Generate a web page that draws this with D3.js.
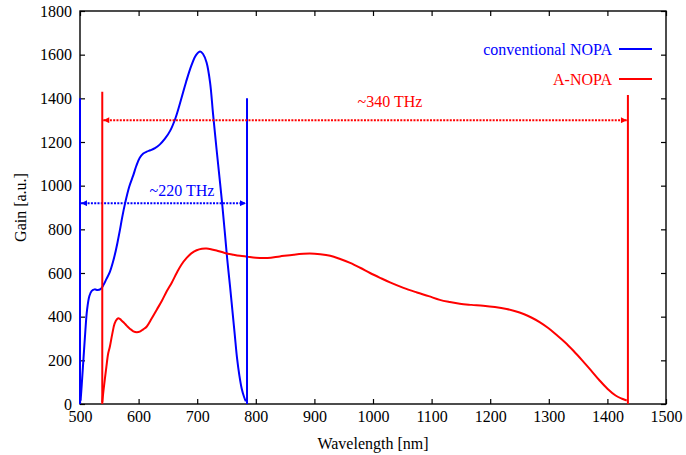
<!DOCTYPE html>
<html>
<head>
<meta charset="utf-8">
<script src="https://cdn.jsdelivr.net/npm/d3@7"></script>
<style>
  html, body { margin: 0; padding: 0; background: #fff; }
  svg { display: block; font-family: "Liberation Serif", "Times New Roman", serif; }
  .tick text { font-size: 16px; fill: #000; }
</style>
</head>
<body>
<div id="chart"></div>
<script>
// Gain vs wavelength: conventional NOPA vs A-NOPA
const xTicks = [500, 600, 700, 800, 900, 1000, 1100, 1200, 1300, 1400, 1500];
const yTicks = [0, 200, 400, 600, 800, 1000, 1200, 1400, 1600, 1800];

// conventional NOPA [nm, gain]
const convNopa = [
  [501,15],[503,90],[506,210],[509,330],[512,430],[516,495],[520,518],[525,525],[530,522],
  [535,526],[540,545],[545,572],[551,605],[556,648],[560,690],[564,740],[568,795],[572,855],
  [577,920],[584,995],[591,1048],[596,1090],[602,1128],[608,1147],[614,1156],[620,1162],
  [628,1172],[636,1188],[645,1215],[654,1252],[663,1310],[672,1390],[681,1475],[690,1550],
  [698,1598],[705,1615],[710,1603],[716,1564],[722,1472],[727,1330],[733,1168],[739,1013],
  [743,906],[747,790],[751,670],[756,540],[760,430],[764,320],[768,210],[772,130],[776,70],
  [780,32],[783,12]
];

// A-NOPA [nm, gain]
const aNopa = [
  [538,8],[540,60],[545,170],[548,230],[551,263],[555,320],[559,368],[563,388],[566,393],
  [570,385],[575,372],[580,358],[585,345],[591,333],[597,329],[603,333],[608,342],[614,355],
  [622,390],[631,432],[640,474],[648,516],[657,558],[665,600],[673,638],[682,669],[690,690],
  [699,704],[708,711],[716,712],[725,708],[733,703],[747,692],[762,684],[773,679],[785,675],
  [800,670],[820,669],[841,676],[865,684],[892,689],[910,686],[927,679],[944,664],[961,646],
  [978,624],[995,600],[1012,578],[1029,557],[1052,532],[1075,511],[1095,494],[1114,477],
  [1131,467],[1148,459],[1168,454],[1188,450],[1208,444],[1228,435],[1243,425],[1257,412],
  [1271,395],[1285,374],[1299,348],[1313,317],[1328,282],[1342,244],[1357,200],[1372,154],
  [1386,110],[1400,70],[1414,39],[1425,24],[1433,16]
];

// bandwidth markers: [left nm, right nm], vertical line tops, arrow level, label
const convBand = [500, 785];
const convBandTops = [1400, 1400];
const convArrowY = 920;
const convLabel = "~220 THz";

const aBand = [538, 1435];
const aBandTops = [1430, 1415];
const aArrowY = 1300;
const aLabel = "~340 THz";

const seriesNames = ["conventional NOPA", "A-NOPA"];
const seriesColors = ["#0000ff", "#ff0000"];

const W = 686, H = 455;
const margin = { top: 11, right: 20, bottom: 51, left: 80 };

const x = d3.scaleLinear().domain([500, 1500]).range([margin.left, W - margin.right]);
const y = d3.scaleLinear().domain([0, 1800]).range([H - margin.bottom, margin.top]);

const svg = d3.select("#chart").append("svg")
  .attr("width", W).attr("height", H);

const defs = svg.append("defs");
seriesColors.forEach((c, i) => {
  defs.append("marker")
    .attr("id", "arr" + i)
    .attr("viewBox", "0 0 10 10")
    .attr("refX", 10).attr("refY", 5)
    .attr("markerWidth", 9).attr("markerHeight", 6)
    .attr("markerUnits", "userSpaceOnUse")
    .attr("orient", "auto-start-reverse")
    .append("path").attr("d", "M0,0L10,5L0,10Z").attr("fill", c);
});

// ticks (inward, mirrored)
const tk = 5;
const fmt = d3.format("d");
const axisStyle = g => g.attr("font-family", null).attr("font-size", null)
  .call(g => g.select(".domain").remove());
svg.append("g")
  .attr("transform", `translate(0,${y(0)})`)
  .call(d3.axisBottom(x).tickValues(xTicks).tickFormat(fmt).tickSizeInner(-tk).tickSizeOuter(0).tickPadding(7))
  .call(axisStyle);
svg.append("g")
  .attr("transform", `translate(0,${y(1800)})`)
  .call(d3.axisTop(x).tickValues(xTicks).tickSizeInner(-tk).tickSizeOuter(0).tickFormat(""))
  .call(axisStyle);
svg.append("g")
  .attr("transform", `translate(${x(500)},0)`)
  .call(d3.axisLeft(y).tickValues(yTicks).tickFormat(fmt).tickSizeInner(-tk).tickSizeOuter(0).tickPadding(8))
  .call(axisStyle);
svg.append("g")
  .attr("transform", `translate(${x(1500)},0)`)
  .call(d3.axisRight(y).tickValues(yTicks).tickSizeInner(-tk).tickSizeOuter(0).tickFormat(""))
  .call(axisStyle);
svg.selectAll(".tick line").attr("stroke", "#000").attr("stroke-width", 1.2);

// frame
svg.append("rect")
  .attr("x", x(500)).attr("y", y(1800))
  .attr("width", x(1500) - x(500)).attr("height", y(0) - y(1800))
  .attr("fill", "none").attr("stroke", "#000").attr("stroke-width", 1.4);

// axis titles
svg.append("text")
  .attr("x", (x(500) + x(1500)) / 2).attr("y", 449)
  .attr("text-anchor", "middle").attr("font-size", 16)
  .text("Wavelength [nm]");
svg.append("text")
  .attr("transform", `translate(26,${(y(0) + y(1800)) / 2}) rotate(-90)`)
  .attr("text-anchor", "middle").attr("font-size", 16)
  .text("Gain [a.u.]");

// curves
const line = d3.line()
  .x(d => x(d[0])).y(d => y(d[1]))
  .curve(d3.curveCatmullRom.alpha(0.5));

[convNopa, aNopa].forEach((data, i) => {
  svg.append("path")
    .datum(data)
    .attr("fill", "none")
    .attr("stroke", seriesColors[i])
    .attr("stroke-width", 2)
    .attr("stroke-linejoin", "round")
    .attr("d", line);
});

// bandwidth markers
const bands = [
  { band: convBand, tops: convBandTops, arrowY: convArrowY, label: convLabel, lx: 674, ly: 952 },
  { band: aBand, tops: aBandTops, arrowY: aArrowY, label: aLabel, lx: 1029, ly: 1359 }
];
bands.forEach((b, i) => {
  const c = seriesColors[i];
  b.band.forEach((w, j) => {
    svg.append("line")
      .attr("x1", x(w)).attr("x2", x(w))
      .attr("y1", y(0)).attr("y2", y(b.tops[j]))
      .attr("stroke", c).attr("stroke-width", 2);
  });
  svg.append("line")
    .attr("x1", x(b.band[0]) + 1).attr("x2", x(b.band[1]) - 1)
    .attr("y1", y(b.arrowY)).attr("y2", y(b.arrowY))
    .attr("stroke", c).attr("stroke-width", 2)
    .attr("stroke-dasharray", "2,1.3")
    .attr("marker-start", `url(#arr${i})`)
    .attr("marker-end", `url(#arr${i})`);
  svg.append("text")
    .attr("x", x(b.lx)).attr("y", y(b.ly))
    .attr("text-anchor", "middle").attr("font-size", 16)
    .attr("fill", c)
    .text(b.label);
});

// legend
const leg = svg.append("g");
seriesNames.forEach((name, i) => {
  const ly = 49 + i * 30;
  leg.append("text")
    .attr("x", 612).attr("y", ly + 6)
    .attr("text-anchor", "end").attr("font-size", 16)
    .attr("fill", seriesColors[i])
    .text(name);
  leg.append("line")
    .attr("x1", 619).attr("x2", 652)
    .attr("y1", ly).attr("y2", ly)
    .attr("stroke", seriesColors[i]).attr("stroke-width", 2);
});
</script>
</body>
</html>
